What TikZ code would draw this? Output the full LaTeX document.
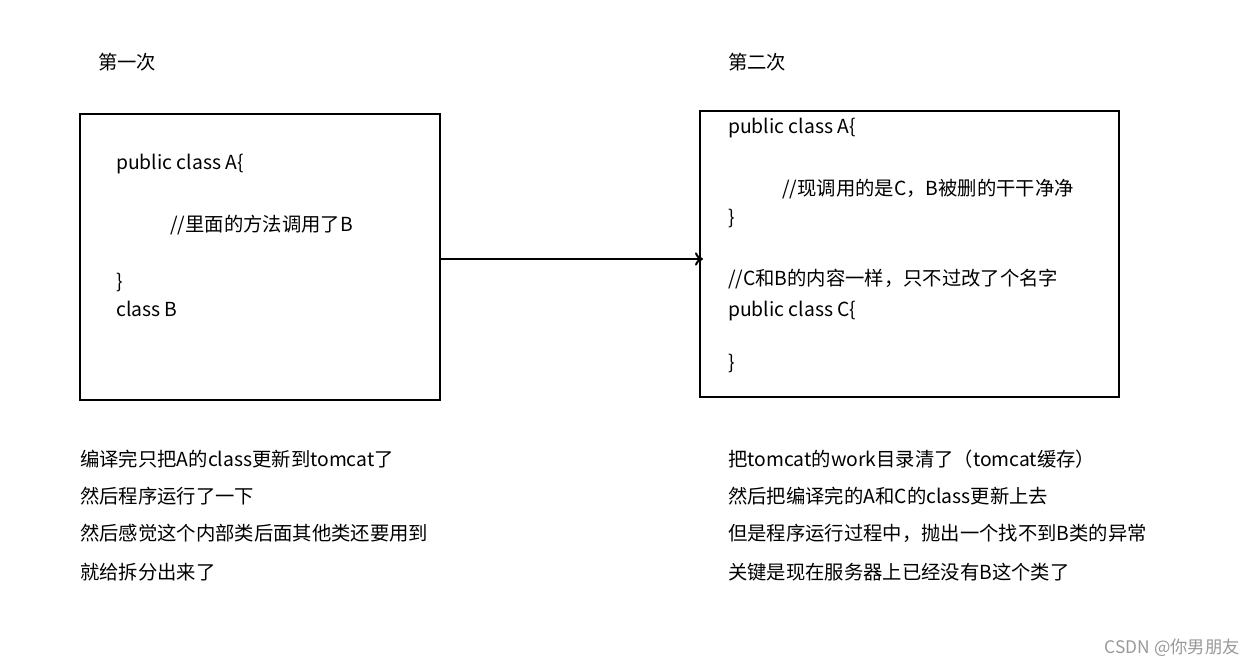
\documentclass[tikz,border=0pt]{standalone}
\usepackage{fontspec}
\setmainfont{Noto Sans CJK SC}
\usetikzlibrary{arrows.meta}
\begin{document}
\begin{tikzpicture}[x=0.75pt,y=-0.75pt,
  t/.style={anchor=west,inner sep=0pt,font=\fontsize{14.5pt}{16pt}\selectfont},
  box/.style={draw,line width=1.5pt,inner sep=0pt}]
\useasboundingbox (0,0) rectangle (1254,666);
\node[box,minimum width=360*0.75pt,minimum height=286*0.75pt] (L) at (260,257) {};
\node[box,minimum width=419*0.75pt,minimum height=286*0.75pt] (R) at (909.5,254) {};
\coordinate (a1) at (L.east|-0,259);
\coordinate (a2) at (703,259);
\draw[line width=1.5pt,-{To[length=6pt,width=10pt]}] (a1) -- (a2);
\node[t] (h1) at (98,62) {第一次};
\node[t] (h2) at (728,62) {第二次};
\node[t] (l1) at (116,164) {public class A\{};
\node[t] (l2) at (170,225) {//里面的方法调用了B};
\node[t] (l3) at (116,282) {\}};
\node[t] (l4) at (116,309) {class B};
\node[t] (r1) at (728,128) {public class A\{};
\node[t] (r2) at (782,189) {//现调用的是C，B被删的干干净净};
\node[t] (r3) at (728,218) {\}};
\node[t] (r4) at (728,279) {//C和B的内容一样，只不过改了个名字};
\node[t] (r5) at (728,311) {public class C\{};
\node[t] (r6) at (728,363) {\}};
\node[t] (b1) at (80,459) {编译完只把A的class更新到tomcat了};
\node[t] (b2) at (80,496) {然后程序运行了一下};
\node[t] (b3) at (80,533) {然后感觉这个内部类后面其他类还要用到};
\node[t] (b4) at (80,572) {就给拆分出来了};
\node[t] (c1) at (728,459) {把tomcat的work目录清了（tomcat缓存）};
\node[t] (c2) at (728,496) {然后把编译完的A和C的class更新上去};
\node[t] (c3) at (728,533) {但是程序运行过程中，抛出一个找不到B类的异常};
\node[t] (c4) at (728,572) {关键是现在服务器上已经没有B这个类了};
\node[anchor=east,inner sep=0pt,text=gray!80,font=\fontsize{13pt}{14pt}\selectfont] (w) at (1240,648) {CSDN @你男朋友};
\end{tikzpicture}
\end{document}
